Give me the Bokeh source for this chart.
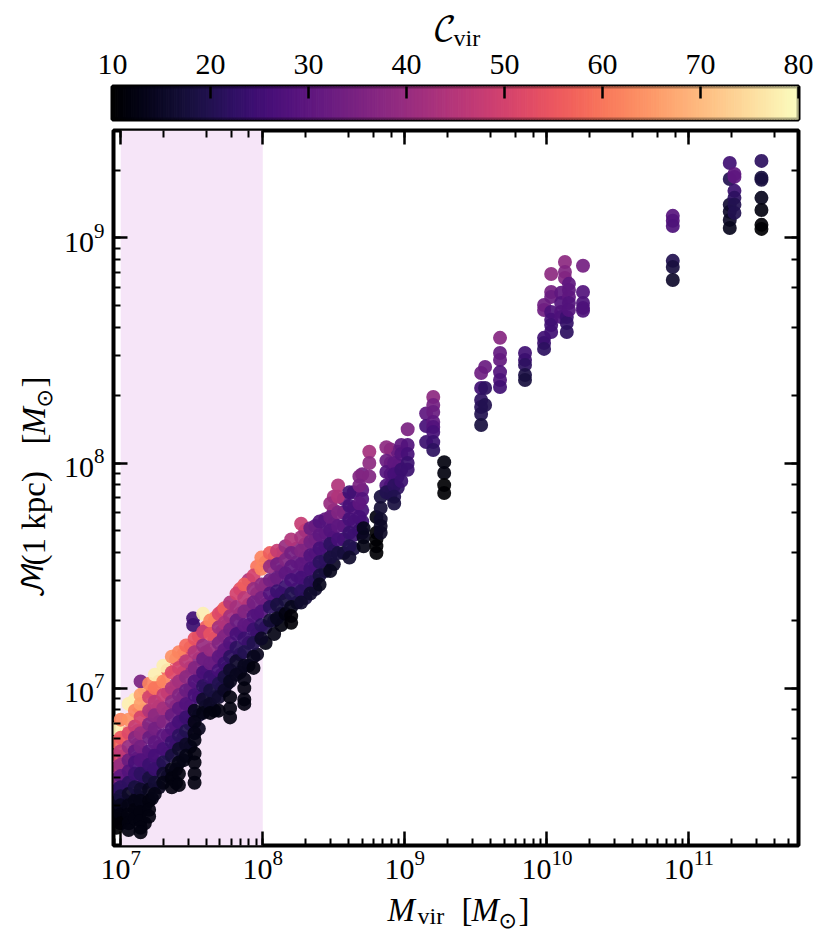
from math import pi
from bokeh.plotting import figure
from bokeh.layouts import column, row
from bokeh.core.properties import value
from bokeh.embed import file_html
from bokeh.resources import INLINE
from bokeh.models import (ColumnDataSource, Range1d, LogAxis, FixedTicker, CustomJSTickFormatter,
                          BoxAnnotation, LinearColorMapper)
from bokeh.palettes import Magma256
from bokeh.transform import transform

# log10 Mvir of each vertical column of haloes, log10 M(1 kpc) and Cvir of its points
column_logmvir = [6.97, 7.00, 7.056, 7.10, 7.14, 7.14, 7.20, 7.24, 7.30, 7.36, 7.41, 7.46, 7.52, 7.51,
                  7.58, 7.63, 7.69, 7.73, 7.77, 7.815, 7.87, 7.935, 7.99, 8.05, 8.10, 8.16, 8.20,
                  8.27, 8.335, 8.40, 8.475, 8.53, 8.61, 8.68, 8.71, 8.75, 8.80, 8.83, 8.87, 8.925,
                  8.975, 9.02, 9.15, 9.20, 9.277, 9.537, 9.565, 9.67, 9.846, 9.98, 10.03, 10.10,
                  10.127, 10.14, 10.155, 10.254, 10.886, 11.287, 11.32, 11.51]
column_logm1 = [
    [6.82, 6.76, 6.70, 6.65, 6.60, 6.55, 6.50, 6.46, 6.42, 6.38],
    [6.86, 6.78, 6.72, 6.66, 6.61, 6.56, 6.52, 6.48, 6.44, 6.40],
    [6.93, 6.86, 6.80, 6.74, 6.68, 6.63, 6.58, 6.53, 6.48, 6.44, 6.40, 6.37],
    [6.95, 6.90, 6.83, 6.78, 6.72, 6.67, 6.62, 6.56, 6.50, 6.46, 6.42],
    [7.03],
    [6.97, 6.93, 6.87, 6.80, 6.74, 6.68, 6.62, 6.55, 6.50, 6.45, 6.41, 6.38, 6.36],
    [7.02, 6.96, 6.90, 6.84, 6.78, 6.72, 6.66, 6.60, 6.55, 6.50, 6.46, 6.43],
    [7.06, 7.00, 6.94, 6.88, 6.82, 6.76, 6.70, 6.64, 6.58, 6.53],
    [7.10, 7.03, 6.97, 6.91, 6.85, 6.79, 6.73, 6.67, 6.62, 6.58],
    [7.14, 7.07, 7.00, 6.94, 6.88, 6.82, 6.76, 6.70, 6.64, 6.60, 6.56],
    [7.16, 7.09, 7.03, 6.97, 6.91, 6.85, 6.79, 6.73, 6.67, 6.62, 6.57],
    [7.19, 7.12, 7.05, 6.99, 6.93, 6.87, 6.81, 6.75, 6.70],
    [7.22, 7.16, 7.09, 7.03, 6.97, 6.90, 6.85, 6.80, 6.77, 6.71, 6.67, 6.62, 6.58],
    [7.31, 7.28],
    [7.33, 7.25, 7.19, 7.13, 7.07, 7.01, 6.95, 6.89],
    [7.30, 7.24, 7.17, 7.11, 7.05, 6.99, 6.93, 6.89],
    [7.33, 7.27, 7.20, 7.14, 7.08, 7.02, 6.96, 6.90],
    [7.355, 7.29, 7.23, 7.17, 7.11, 7.05, 6.99],
    [7.38, 7.32, 7.26, 7.20, 7.14, 7.08, 7.03, 6.96, 6.91, 6.87],
    [7.42, 7.36, 7.30, 7.24, 7.18, 7.12, 7.06],
    [7.46, 7.40, 7.34, 7.28, 7.22, 7.16, 7.10, 7.04, 7.00, 6.95, 6.93],
    [7.50, 7.44, 7.38, 7.32, 7.26, 7.20, 7.14, 7.09],
    [7.58, 7.53, 7.46, 7.40, 7.34, 7.28, 7.22],
    [7.60, 7.54, 7.48, 7.42, 7.36, 7.30],
    [7.61, 7.55, 7.49, 7.43, 7.37, 7.31],
    [7.63, 7.57, 7.51, 7.45, 7.39, 7.33],
    [7.66, 7.60, 7.54, 7.48, 7.42, 7.36, 7.32, 7.29],
    [7.73, 7.67, 7.61, 7.55, 7.49, 7.43, 7.38],
    [7.71, 7.65, 7.59, 7.53, 7.47, 7.42],
    [7.74, 7.68, 7.62, 7.56, 7.50, 7.46],
    [7.82, 7.76, 7.70, 7.64, 7.58, 7.52],
    [7.90, 7.85, 7.78, 7.72, 7.66, 7.60],
    [7.87, 7.81, 7.75, 7.69, 7.63, 7.58],
    [7.94, 7.90, 7.82, 7.76, 7.70],
    [7.71, 7.67, 7.63],
    [8.05, 8.00, 7.94],
    [7.76, 7.69, 7.66, 7.63, 7.60],
    [7.85, 7.80, 7.75, 7.72, 7.69],
    [8.07, 8.01, 7.96, 7.90, 7.87],
    [8.00, 7.95, 7.90, 7.85, 7.82],
    [8.08, 8.04, 7.97, 7.92],
    [8.15, 8.08, 8.04, 8.00, 7.97],
    [8.22, 8.164, 8.093],
    [8.293, 8.258, 8.227, 8.182, 8.16, 8.138, 8.093, 8.058],
    [8.004, 7.956, 7.902, 7.867],
    [8.40, 8.333, 8.28, 8.249, 8.218, 8.169],
    [8.427, 8.333, 8.258],
    [8.556, 8.489, 8.458, 8.404, 8.369, 8.338],
    [8.489, 8.458, 8.436, 8.391, 8.369],
    [8.702, 8.68, 8.556, 8.533, 8.507],
    [8.84, 8.76, 8.738, 8.671, 8.636, 8.613, 8.582],
    [8.756, 8.711, 8.671, 8.649],
    [8.893, 8.849, 8.822],
    [8.649, 8.622, 8.582],
    [8.796, 8.769, 8.738, 8.711, 8.68],
    [8.876, 8.76, 8.711, 8.689, 8.676],
    [9.098, 9.076, 9.053, 8.898, 8.871, 8.813],
    [9.333, 9.262, 9.147, 9.116, 9.08, 9.044],
    [9.284, 9.271, 9.209, 9.178, 9.147, 9.111],
    [9.342, 9.267, 9.258, 9.178, 9.124, 9.058, 9.04],
]
column_cvir = [
    [78, 58, 52, 44, 36, 24, 15, 12, 11, 10],
    [62, 55, 46, 40, 30, 22, 18, 14, 12, 11],
    [78, 64, 52, 40, 32, 28, 22, 15, 13, 12, 12, 12],
    [78, 62, 48, 36, 30, 26, 24, 18, 13, 12, 12],
    [35],
    [66, 66, 50, 40, 34, 28, 22, 16, 13, 12, 12, 12, 12],
    [62, 50, 44, 36, 32, 28, 24, 18, 14, 12, 12, 12],
    [78, 60, 46, 38, 34, 30, 26, 24, 17, 13],
    [78, 62, 48, 42, 36, 30, 26, 20, 16, 13],
    [64, 52, 44, 38, 32, 28, 24, 18, 13, 12, 12],
    [62, 50, 42, 36, 30, 26, 22, 16, 13, 12, 12],
    [58, 46, 38, 32, 28, 24, 20, 15, 13],
    [54, 44, 36, 28, 26, 14, 13, 13, 13, 12, 12, 12, 12],
    [25, 24],
    [78, 48, 40, 32, 26, 22, 16, 13],
    [62, 54, 40, 32, 24, 18, 15, 12],
    [52, 42, 36, 30, 26, 20, 16, 12],
    [56, 44, 36, 30, 24, 18, 15],
    [44, 42, 34, 28, 22, 16, 14, 12, 12, 12],
    [50, 42, 32, 26, 22, 16, 14],
    [56, 46, 36, 30, 24, 20, 14, 13, 12, 12, 12],
    [50, 40, 34, 28, 24, 20, 14, 12],
    [62, 62, 38, 34, 28, 22, 15],
    [56, 40, 34, 28, 22, 17],
    [48, 34, 32, 24, 18, 14],
    [40, 36, 30, 24, 18, 12],
    [44, 34, 30, 26, 20, 14, 11, 11],
    [48, 42, 36, 30, 26, 22, 16],
    [32, 34, 28, 26, 22, 16],
    [28, 30, 26, 22, 18, 14],
    [40, 32, 28, 22, 18, 14],
    [44, 44, 36, 30, 26, 18],
    [25, 26, 26, 24, 20, 16],
    [36, 35, 30, 26, 24],
    [14, 14, 13],
    [42, 38, 36],
    [12, 10, 10, 10, 10],
    [18, 17, 16, 15, 15],
    [38, 32, 28, 27, 20],
    [30, 26, 22, 20, 18],
    [30, 28, 24, 24],
    [35, 28, 26, 24, 24],
    [30, 26, 24],
    [38, 34, 32, 30, 28, 26, 24, 22],
    [12, 12, 10, 10],
    [33, 25, 22, 21, 20, 18],
    [32, 22, 20],
    [37, 31, 31, 28, 27, 25],
    [25, 24, 22, 19, 18],
    [33, 33, 25, 24, 22],
    [38, 34, 32, 27, 26, 25, 25],
    [30, 28, 28, 27],
    [38, 36, 36],
    [24, 23, 22],
    [30, 30, 30, 28, 28],
    [34, 28, 27, 27, 27],
    [29, 28, 27, 20, 18, 16],
    [25, 20, 17, 16, 15, 14],
    [30, 30, 24, 22, 20, 20],
    [22, 18, 18, 14, 12, 11, 10],
]

# further haloes between those columns, in the crowded part of the cloud
extra_logmvir = [7.03, 7.12, 7.17, 7.22, 7.27, 7.33, 7.39, 7.44, 7.49, 7.55, 7.60, 7.66, 7.71, 7.75, 7.84,
                 7.90, 7.96, 8.02, 8.08, 8.13, 8.24, 8.30, 8.37, 8.44, 8.50, 8.57, 8.64, 8.70, 8.90, 8.95]
extra_logm1 = [
    [6.80, 6.70, 6.64, 6.58, 6.50, 6.42],
    [6.92, 6.81, 6.75, 6.69, 6.60, 6.52, 6.44],
    [6.99, 6.90, 6.82, 6.71, 6.65, 6.58, 6.47, 6.40],
    [6.98, 6.88, 6.80, 6.70, 6.62, 6.51],
    [7.03, 6.92, 6.85, 6.74, 6.66, 6.56],
    [7.08, 6.98, 6.89, 6.79, 6.71, 6.61],
    [7.13, 7.02, 6.92, 6.83, 6.75, 6.64, 6.58],
    [7.15, 7.07, 6.96, 6.87, 6.78, 6.68],
    [7.18, 7.09, 7.00, 6.92, 6.84, 6.74],
    [7.23, 7.13, 7.05, 6.96, 6.88, 6.82],
    [7.27, 7.16, 7.08, 7.00, 6.92],
    [7.31, 7.22, 7.12, 7.04, 6.96, 6.90],
    [7.34, 7.25, 7.16, 7.06, 7.00],
    [7.36, 7.28, 7.18, 7.09, 7.02],
    [7.44, 7.33, 7.25, 7.15, 7.07],
    [7.48, 7.37, 7.28, 7.20, 7.10],
    [7.54, 7.42, 7.33, 7.24, 7.15],
    [7.56, 7.46, 7.37, 7.27, 7.20],
    [7.58, 7.48, 7.39, 7.30, 7.24],
    [7.60, 7.52, 7.42, 7.33, 7.28],
    [7.62, 7.56, 7.50, 7.44, 7.38],
    [7.70, 7.64, 7.58, 7.52, 7.46, 7.40],
    [7.72, 7.66, 7.60, 7.54, 7.48, 7.44],
    [7.75, 7.69, 7.63, 7.57, 7.52],
    [7.85, 7.79, 7.73, 7.67, 7.61, 7.55],
    [7.84, 7.78, 7.72, 7.66, 7.60],
    [7.87, 7.80, 7.74, 7.68, 7.62],
    [7.95, 7.88, 7.84, 7.79, 7.74, 7.69],
    [8.06, 8.00, 7.95, 7.90, 7.86],
    [8.05, 7.99, 7.94, 7.89],
]
extra_cvir = [
    [66, 52, 44, 34, 18, 12],
    [64, 50, 40, 34, 28, 15, 12],
    [70, 54, 44, 30, 26, 22, 12, 12],
    [58, 44, 36, 30, 22, 13],
    [60, 44, 34, 28, 24, 14],
    [58, 46, 36, 28, 24, 14],
    [54, 42, 34, 28, 22, 14, 12],
    [56, 42, 32, 26, 20, 13],
    [50, 40, 30, 26, 22, 13],
    [50, 38, 30, 24, 18, 14],
    [56, 40, 30, 22, 15],
    [60, 42, 32, 24, 18, 13],
    [50, 38, 28, 20, 14],
    [48, 36, 26, 20, 14],
    [54, 36, 30, 22, 14],
    [44, 34, 28, 20, 13],
    [60, 36, 28, 22, 14],
    [50, 36, 28, 20, 13],
    [40, 32, 26, 18, 13],
    [36, 32, 26, 18, 12],
    [38, 32, 28, 24, 16],
    [42, 34, 30, 28, 24, 18],
    [30, 30, 28, 24, 20, 16],
    [30, 28, 26, 20, 15],
    [42, 36, 30, 26, 20, 15],
    [30, 28, 26, 22, 13],
    [28, 28, 26, 24, 18],
    [34, 30, 28, 26, 24, 20],
    [36, 32, 28, 24, 18],
    [32, 28, 24, 22],
]

cbar_ticks = [10, 20, 30, 40, 50, 60, 70, 80]
cvir_low, cvir_high = 10, 80

mvir, m1kpc, cvir = [], [], []
for lx, lys, cs in zip(extra_logmvir + column_logmvir, extra_logm1 + column_logm1, extra_cvir + column_cvir):
    for ly, c in zip(lys, cs):
        mvir.append(10 ** lx)
        m1kpc.append(10 ** ly)
        cvir.append(c)

SERIF = "Liberation Serif"
MATHF = "DejaVu Math TeX Gyre"
mapper = LinearColorMapper(palette=Magma256, low=cvir_low, high=cvir_high)


def strip(w, h, xr, yr, **kw):
    f = figure(width=w, height=h, x_range=Range1d(*xr), y_range=Range1d(*yr), x_axis_type=None, y_axis_type=None,
               output_backend="svg", toolbar_location=None, **kw)
    f.outline_line_color = None
    f.grid.visible = False
    f.background_fill_color = None
    f.border_fill_color = None
    return f


def put(f, x, y, t, size, font=SERIF, style="normal", angle=0):
    # the drawn baseline sits about a quarter of the size past the anchor
    shift = 0.27 * size
    if angle:
        x -= shift
    else:
        y -= shift
    f.text([x], [y], text=[t], text_font=value(font), text_font_size=value(f"{size}px"),
           text_font_style=style, text_color="black", text_align="left", text_baseline="alphabetic", angle=angle)


# title strip: ranges are page pixels over its frame, which lines up with the panels below
title_strip = strip(818, 56, (112, 798), (56, 0), min_border_left=112, min_border_right=20, min_border_top=0,
                    min_border_bottom=0, margin=(0, 0, -8, 0))
put(title_strip, 432, 40, "\U0001D49E", 33, font=MATHF)
put(title_strip, 453, 44, "vir", 24)

# colour bar
n = len(Magma256)
step = (cvir_high - cvir_low) / n
cb = figure(width=818, height=77, x_range=Range1d(cvir_low, cvir_high), y_range=Range1d(0, 1),
            output_backend="svg", toolbar_location=None, x_axis_location="above",
            min_border_left=112, min_border_right=20, min_border_top=38, min_border_bottom=6)
cb.border_fill_color = None
cb.quad(left=[cvir_low + i * step for i in range(n)], right=[cvir_low + (i + 1) * step for i in range(n)],
        bottom=0, top=1, fill_color=list(Magma256), line_color=list(Magma256), line_width=1, level="underlay")
cb.add_layout(BoxAnnotation(left=cvir_low, right=cvir_high, bottom=0, top=1, fill_alpha=0, line_color="black",
                            line_width=4, level="overlay"))
cb.yaxis.visible = False
cb.grid.visible = False
cb.outline_line_color = "black"
cb.outline_line_width = 4
ax = cb.xaxis[0]
ax.ticker = FixedTicker(ticks=cbar_ticks)
ax.axis_line_color = None
ax.major_tick_in = 12
ax.major_tick_out = 0
ax.minor_tick_line_color = None
ax.major_tick_line_width = 2.5
ax.major_label_text_font = SERIF
ax.major_label_text_font_size = "30px"
ax.major_label_text_color = "black"
ax.major_label_standoff = 13

# main panel
p = figure(width=758, height=760, x_axis_type="log", y_axis_type="log",
           x_range=Range1d(8.9e6, 5.9e11), y_range=Range1d(2e6, 3e9),
           output_backend="svg", toolbar_location=None,
           min_border_left=52, min_border_right=20, min_border_top=5, min_border_bottom=40)
p.grid.visible = False
p.outline_line_color = "black"
p.outline_line_width = 4
p.add_layout(BoxAnnotation(left=1e7, right=1e8, fill_color="#f6e5f8", fill_alpha=1, line_color=None, level="underlay"))

src = ColumnDataSource(dict(mvir=mvir, m1kpc=m1kpc, cvir=cvir))
p.scatter("mvir", "m1kpc", source=src, size=14, line_color=None, fill_alpha=0.92,
          fill_color=transform("cvir", mapper))

p.add_layout(LogAxis(), "right")
p.add_layout(LogAxis(), "above")
for a in p.axis:
    a.axis_line_color = None
    a.major_tick_in = 14
    a.major_tick_out = 0
    a.minor_tick_in = 7
    a.minor_tick_out = 0
    a.major_tick_line_width = 2.5
    a.minor_tick_line_width = 2
    a.major_label_text_font = SERIF
    a.major_label_text_font_size = "30px"
    a.major_label_text_color = "black"
for a in p.below:
    a.major_label_standoff = 5
for a in p.left:
    a.major_label_standoff = 9
for a in p.right + p.above:
    a.formatter = CustomJSTickFormatter(code="return ''")
    a.major_label_standoff = 0

# y label strip: vertical range is page pixels over the aligned frame of the main panel
ylabel_strip = strip(60, 760, (0, 60), (845, 130), min_border_left=0, min_border_right=0, min_border_top=5, min_border_bottom=40)
put(ylabel_strip, 42, 598, "\u2133", 29, font=MATHF, angle=pi / 2)
put(ylabel_strip, 42, 565, "(1 kpc)", 33, angle=pi / 2)
put(ylabel_strip, 42, 444, "[", 33, angle=pi / 2)
put(ylabel_strip, 42, 434, "M", 33, style="italic", angle=pi / 2)
put(ylabel_strip, 50, 407, "\u2299", 22, font="DejaVu Sans", angle=pi / 2)
put(ylabel_strip, 42, 387, "]", 33, angle=pi / 2)

# x label strip
xlabel_strip = strip(818, 50, (112, 798), (935, 885), min_border_left=112, min_border_right=20, min_border_top=0, min_border_bottom=0)
put(xlabel_strip, 387, 918, "M", 33, style="italic")
put(xlabel_strip, 417, 922, "vir", 24)
put(xlabel_strip, 461, 918, "[", 33)
put(xlabel_strip, 471, 918, "M", 33, style="italic")
put(xlabel_strip, 498, 926, "\u2299", 22, font="DejaVu Sans")
put(xlabel_strip, 518, 918, "]", 33)

page = column(title_strip, cb, row(ylabel_strip, p, spacing=0), xlabel_strip, spacing=0)
open("out.html", "w").write(file_html(page, INLINE))
